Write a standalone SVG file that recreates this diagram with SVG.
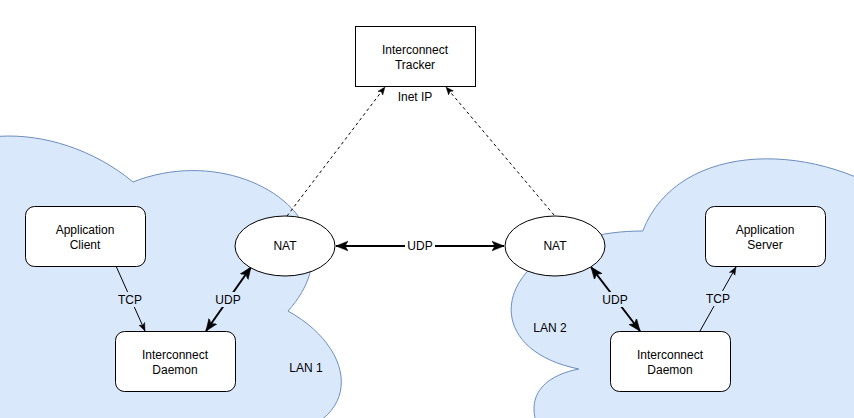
<svg xmlns="http://www.w3.org/2000/svg" width="854" height="418" viewBox="0 0 854 418">
<style>
text{font-family:"Liberation Sans",Arial,sans-serif;font-size:12px;fill:#000;text-anchor:middle}
.cloud{fill:#dae8fc;stroke:#6c8ebf;stroke-width:1}
.box{fill:#fff;stroke:#000;stroke-width:1}
.thin{stroke:#000;stroke-width:1;fill:none}
.thick{stroke:#000;stroke-width:2;fill:none}
.dash{stroke:#000;stroke-width:1;fill:none;stroke-dasharray:3 3}
.lbl{fill:#dae8fc}
.lblw{fill:#fff}
</style>
<defs>
<marker id="at" markerUnits="userSpaceOnUse" markerWidth="8" markerHeight="8" viewBox="0 0 10 10" refX="10" refY="5" orient="auto-start-reverse"><path d="M0,1 L10,5 L0,9 L2.5,5 Z" fill="#000" stroke="#000" stroke-width="0.5"/></marker>
<marker id="ak" markerUnits="userSpaceOnUse" markerWidth="12" markerHeight="12" viewBox="0 0 10 10" refX="10" refY="5" orient="auto-start-reverse"><path d="M0,1 L10,5 L0,9 L2.5,5 Z" fill="#000" stroke="#000" stroke-width="0.5"/></marker>
</defs>
<g id="lan1">
<path class="cloud" d="M -99.5 203.5 C -223.5 203.5 -254.5 311 -155.3 332.5 C -254.5 354 -142.9 483 -62.3 440 C -6.5 526 179.5 526 241.5 440 C 365.5 440 365.5 354 288 311 C 365.5 225 241.5 139 133 182 C 55.5 117.5 -68.5 117.5 -99.5 203.5 Z"/>
<text x="306" y="372">LAN 1</text>
</g>
<g id="lan2">
<path class="cloud" d="M 642.75 231 C 500.55 231 465 346 578.76 369 C 465 392 592.98 530 685.41 484 C 749.4 576 962.7 576 1033.8 484 C 1176 484 1176 392 1087.1 346 C 1176 254 1033.8 162 909.4 208 C 820.5 139 678.3 139 642.75 231 Z"/>
<text x="550" y="332">LAN 2</text>
</g>
<g id="connectors">
<line class="dash" x1="287" y1="216" x2="385" y2="87" marker-end="url(#at)"/>
<line class="dash" x1="554" y1="215" x2="446" y2="87" marker-end="url(#at)"/>
<line class="thin" x1="116" y1="266" x2="145" y2="331" marker-end="url(#at)"/>
<rect class="lbl" x="117" y="292" width="27" height="15"/>
<text x="130" y="304">TCP</text>
<line class="thick" x1="206" y1="331" x2="251" y2="267" marker-start="url(#ak)" marker-end="url(#ak)"/>
<rect class="lbl" x="214" y="292" width="28" height="15"/>
<text x="228" y="304">UDP</text>
<line class="thick" x1="336" y1="246" x2="504" y2="246" marker-start="url(#ak)" marker-end="url(#ak)"/>
<rect class="lblw" x="405" y="238" width="30" height="15"/>
<text x="420" y="250">UDP</text>
<line class="thick" x1="591" y1="267" x2="640" y2="331" marker-start="url(#ak)" marker-end="url(#ak)"/>
<rect class="lbl" x="601" y="292" width="28" height="15"/>
<text x="615" y="304">UDP</text>
<line class="thin" x1="700" y1="331" x2="736" y2="267" marker-end="url(#at)"/>
<rect class="lbl" x="705" y="291" width="27" height="15"/>
<text x="718" y="303">TCP</text>
</g>
<g id="tracker">
<rect class="box" x="355.5" y="26.5" width="120" height="60"/>
<text x="415" y="54">Interconnect</text>
<text x="415" y="69">Tracker</text>
<text x="415" y="101">Inet IP</text>
</g>
<g id="client">
<rect class="box" x="25.5" y="206.5" width="120" height="60" rx="9"/>
<text x="85" y="234">Application</text>
<text x="85" y="249">Client</text>
</g>
<g id="daemon1">
<rect class="box" x="115.5" y="331.5" width="120" height="60" rx="9"/>
<text x="175" y="359">Interconnect</text>
<text x="175" y="374">Daemon</text>
</g>
<g id="nat1">
<ellipse class="box" cx="285" cy="246" rx="50" ry="30"/>
<text x="285" y="250">NAT</text>
</g>
<g id="nat2">
<ellipse class="box" cx="555" cy="246" rx="50" ry="30"/>
<text x="555" y="250">NAT</text>
</g>
<g id="server">
<rect class="box" x="705.5" y="206.5" width="120" height="60" rx="9"/>
<text x="765" y="234">Application</text>
<text x="765" y="249">Server</text>
</g>
<g id="daemon2">
<rect class="box" x="610.5" y="331.5" width="120" height="60" rx="9"/>
<text x="670" y="359">Interconnect</text>
<text x="670" y="374">Daemon</text>
</g>
</svg>
